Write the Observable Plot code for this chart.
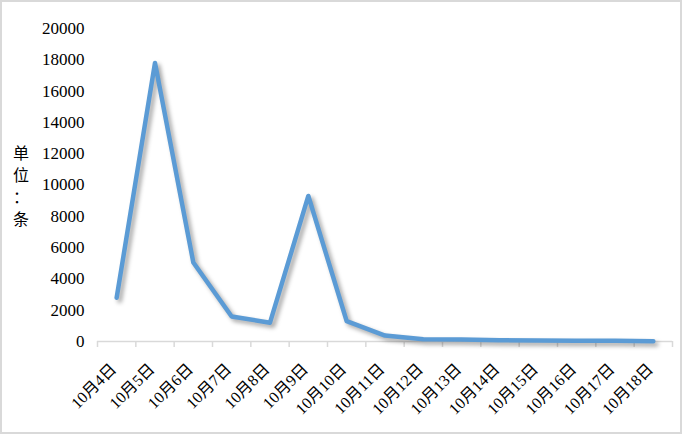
<!DOCTYPE html>
<html>
<head>
<meta charset="utf-8">
<script src="https://cdn.jsdelivr.net/npm/d3@7"></script>
<script src="https://cdn.jsdelivr.net/npm/@observablehq/plot@0.6"></script>
<style>
  html, body { margin: 0; padding: 0; background: #fff; }
  #wrap { position: relative; width: 682px; height: 434px; overflow: hidden; background: #fff; }
  #wrap svg { position: absolute; left: 0; top: 0; }
  #frame { position: absolute; left: 0; top: 0; width: 682px; height: 434px; box-sizing: border-box;
           border: 2px solid #d9d9d9; pointer-events: none; }
  #ylabel { position: absolute; left: 11px; top: 141px; width: 20px; text-align: center;
            font-family: "Noto Sans CJK SC", sans-serif; font-size: 16px; line-height: 22px; color: #000; }
</style>
</head>
<body>
<div id="wrap">
  <div id="ylabel">单<br>位<br>：<br>条</div>
  <div id="frame"></div>
</div>
<script>
const dates = ["10月4日","10月5日","10月6日","10月7日","10月8日","10月9日","10月10日","10月11日","10月12日","10月13日","10月14日","10月15日","10月16日","10月17日","10月18日"];
const counts = [2800, 17800, 5050, 1600, 1200, 9300, 1300, 380, 150, 120, 80, 60, 50, 40, 20];
const yTicks = [0, 2000, 4000, 6000, 8000, 10000, 12000, 14000, 16000, 18000, 20000];

const idx = dates.map((d, i) => i);
const bounds = dates.map((d, i) => i - 0.5).concat([dates.length - 0.5]);
const serif = '"Liberation Serif", "Noto Sans CJK SC", serif';

const chart = Plot.plot({
  width: 682,
  height: 434,
  marginLeft: 97,
  marginRight: 10,
  marginTop: 28,
  marginBottom: 93,
  style: 'font-size: 16px; color: #000; background: transparent;',
  x: { type: "linear", domain: [-0.5, dates.length - 0.5], label: null },
  y: { domain: [0, 20000], label: null },
  marks: [
    Plot.axisY(yTicks, { tickSize: 0, tickPadding: 13, tickFormat: d => String(d), label: null, fontSize: 17 }),
    Plot.ruleY([0], { stroke: "#d9d9d9", strokeWidth: 1.5 }),
    Plot.axisX(bounds, { tickSize: 6, stroke: "#d9d9d9", strokeWidth: 1.5, tickFormat: () => "", label: null }),
    Plot.axisX(idx, { tickSize: 0, tickPadding: 25, dx: -3, tickRotate: -45, tickFormat: i => dates[i], label: null, fontSize: 16 }),
    Plot.line(counts, { x: (d, i) => i, y: d => d, stroke: "#5b9bd5", strokeWidth: 4.5, strokeLinejoin: "round", strokeLinecap: "round" })
  ]
});

document.getElementById("wrap").insertBefore(chart, document.getElementById("ylabel"));
d3.select(chart).style("font-family", serif);
d3.select(chart).selectAll("g, text").style("font-family", serif);
d3.select(chart).selectAll('g[aria-label="line"] path')
  .style("filter", "drop-shadow(3px 3px 2px rgba(0,0,0,0.35))");
</script>
</body>
</html>
